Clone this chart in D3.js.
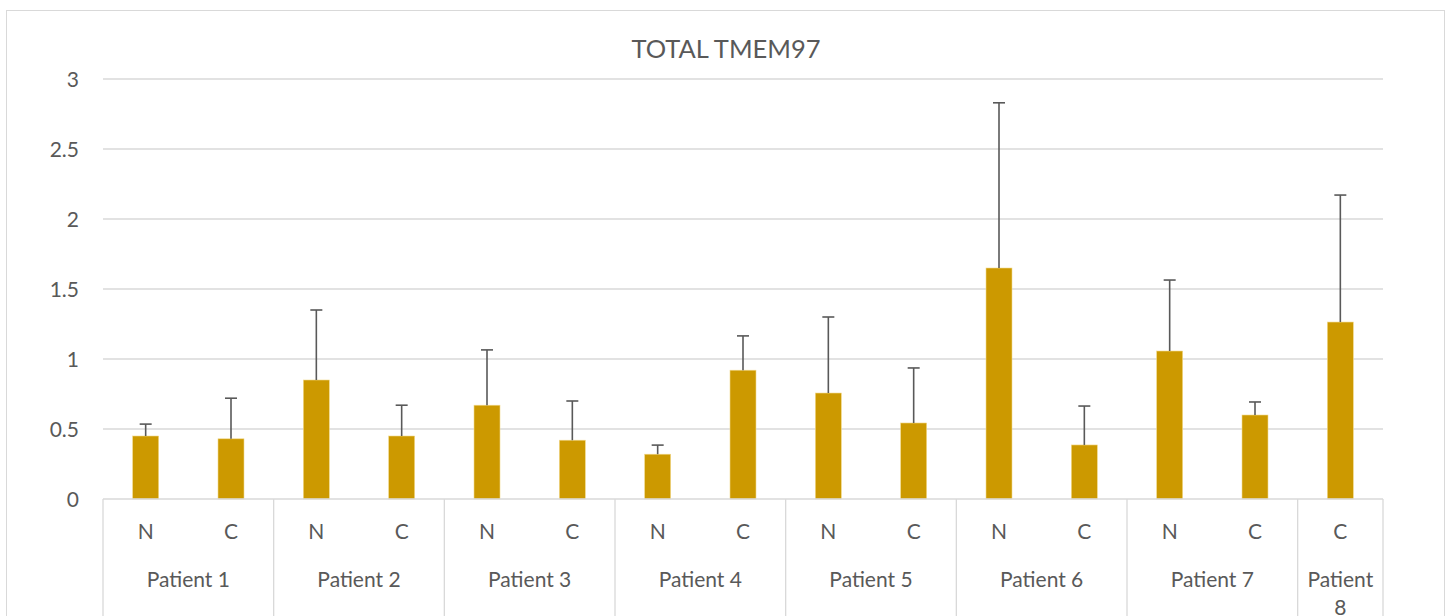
<!DOCTYPE html>
<html>
<head>
<meta charset="utf-8">
<script src="https://cdn.jsdelivr.net/npm/d3@7/dist/d3.min.js"></script>
<style>
html,body{margin:0;padding:0;background:#fff;}
svg{display:block;}
text{font-family:Lato,"Open Sans",sans-serif;fill:#595959;}
</style>
</head>
<body>
<svg id="chart" width="1449" height="616"></svg>
<script>
const title = "TOTAL TMEM97";
const patients = ["Patient 1","Patient 2","Patient 3","Patient 4","Patient 5","Patient 6","Patient 7","Patient 8"];
const groups = [["N","C"],["N","C"],["N","C"],["N","C"],["N","C"],["N","C"],["N","C"],["C"]];
const values = [0.45,0.43, 0.85,0.45, 0.67,0.42, 0.32,0.92, 0.757,0.543, 1.65,0.386, 1.057,0.60, 1.264];
const errors = [0.085,0.29, 0.50,0.22, 0.395,0.28, 0.065,0.245, 0.543,0.393, 1.18,0.278, 0.507,0.093, 0.907];
const yTicks = [0,0.5,1,1.5,2,2.5,3];

const svg = d3.select("#chart");
const M = {left:103, right:1383, top:79, bottom:499};

svg.append("rect").attr("x",6.5).attr("y",10.5).attr("width",1438).attr("height",640)
  .attr("fill","none").attr("stroke","#d9d9d9").attr("stroke-width",1);

const cats = [];
groups.forEach((g,pi)=>g.forEach(s=>cats.push({p:pi,s:s,key:pi+"-"+s})));

const x = d3.scaleBand().domain(cats.map(c=>c.key)).range([M.left,M.right]).padding(0);
const y = d3.scaleLinear().domain([0,3]).range([M.bottom,M.top]);

svg.append("g").selectAll("line").data(yTicks.filter(t=>t>0)).join("line")
  .attr("x1",M.left).attr("x2",M.right)
  .attr("y1",d=>y(d)).attr("y2",d=>y(d))
  .attr("stroke","#d9d9d9").attr("stroke-width",1.3);

const yAxis = d3.axisLeft(y).tickValues(yTicks).tickSize(0).tickPadding(0).tickFormat(d=>String(d));
const ya = svg.append("g").attr("transform",`translate(${79},0)`).call(yAxis);
ya.select(".domain").remove();
ya.selectAll("text").attr("font-size","21px").attr("dy",null)
  .attr("y",7.5).style("fill","#595959")
  .style("font-family",'Lato,"Open Sans",sans-serif');

const bw = 26;
const data = cats.map((c,i)=>({...c,v:values[i],e:errors[i]}));
svg.append("g").selectAll("rect").data(data).join("rect")
  .attr("x",d=>x(d.key)+x.bandwidth()/2-bw/2)
  .attr("width",bw)
  .attr("y",d=>y(d.v))
  .attr("height",d=>y(0)-y(d.v))
  .attr("fill","#cc9900")
  .attr("stroke","#f2d98c").attr("stroke-width",0.6);

const eg = svg.append("g").attr("stroke","#595959").attr("stroke-width",1.6);
eg.selectAll("line.v").data(data).join("line").attr("class","v")
  .attr("x1",d=>x(d.key)+x.bandwidth()/2).attr("x2",d=>x(d.key)+x.bandwidth()/2)
  .attr("y1",d=>y(d.v)).attr("y2",d=>y(d.v+d.e));
eg.selectAll("line.c").data(data).join("line").attr("class","c")
  .attr("x1",d=>x(d.key)+x.bandwidth()/2-6).attr("x2",d=>x(d.key)+x.bandwidth()/2+6)
  .attr("y1",d=>y(d.v+d.e)).attr("y2",d=>y(d.v+d.e));

svg.append("line").attr("x1",M.left).attr("x2",M.right).attr("y1",y(0)).attr("y2",y(0))
  .attr("stroke","#d9d9d9").attr("stroke-width",1.3);

let idx = 0;
const bounds = [M.left];
groups.forEach(g=>{ idx += g.length; bounds.push(x(cats[idx-1].key)+x.bandwidth()); });
svg.append("g").selectAll("line").data(bounds).join("line")
  .attr("x1",d=>d).attr("x2",d=>d).attr("y1",y(0)).attr("y2",620)
  .attr("stroke","#d9d9d9").attr("stroke-width",1.3);

svg.append("g").selectAll("text").data(cats).join("text")
  .attr("x",d=>x(d.key)+x.bandwidth()/2).attr("y",539)
  .attr("text-anchor","middle").attr("font-size","21px").text(d=>d.s);

const pStart = [];
groups.forEach((g,pi)=>{ pStart.push({p:pi, x0:bounds[pi], x1:bounds[pi+1]}); });
const pl = svg.append("g").selectAll("text").data(pStart).join("text")
  .attr("x",d=>(d.x0+d.x1)/2).attr("y",587)
  .attr("text-anchor","middle").attr("font-size","21px");
pl.each(function(d){
  const t = d3.select(this);
  const name = patients[d.p];
  if (d.x1-d.x0 < 100) {
    const parts = name.split(" ");
    t.append("tspan").attr("x",(d.x0+d.x1)/2).attr("dy",0).text(parts[0]);
    t.append("tspan").attr("x",(d.x0+d.x1)/2).attr("dy",28).text(parts[1]);
  } else t.text(name);
});

svg.append("text").attr("x",726).attr("y",58).attr("text-anchor","middle")
  .attr("font-size","25.5px").text(title);
</script>
</body>
</html>
